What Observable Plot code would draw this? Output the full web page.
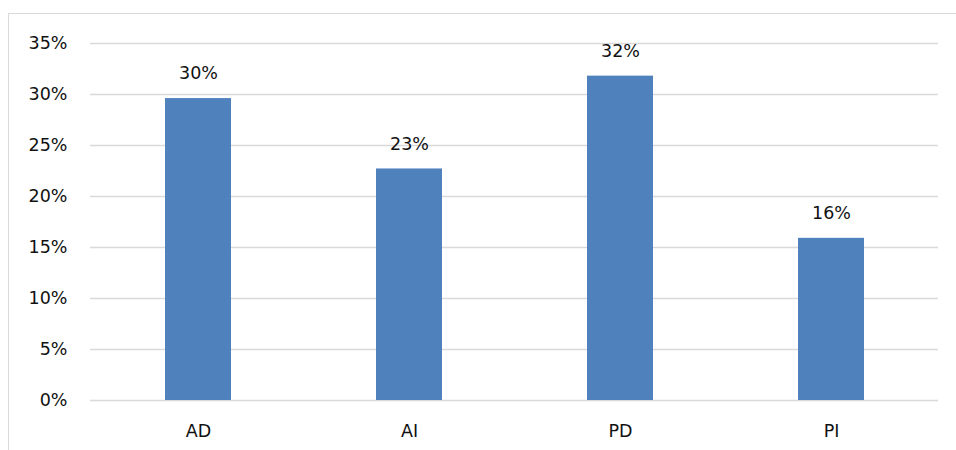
<!DOCTYPE html>
<html>
<head>
<meta charset="utf-8">
<script src="https://cdn.jsdelivr.net/npm/d3@7"></script>
<script src="https://cdn.jsdelivr.net/npm/@observablehq/plot@0.6"></script>
<style>
  html, body { margin: 0; padding: 0; background: #fff; }
  #wrap { position: relative; width: 956px; height: 450px; }
  #border { position: absolute; left: 8px; top: 13px; right: 0; bottom: 0;
            border-left: 1.5px solid #d9d9d9; border-top: 1.5px solid #d9d9d9; }
  #chart { position: absolute; left: 0; top: 0; }
</style>
</head>
<body>
<div id="wrap"><div id="border"></div><div id="chart"></div></div>
<script>
const categories = ["AD", "AI", "PD", "PI"];
const values = [0.296, 0.227, 0.318, 0.159];
const yTicks = [0, 0.05, 0.10, 0.15, 0.20, 0.25, 0.30, 0.35];

const data = categories.map((c, i) => ({category: c, value: values[i]}));
const pct = d3.format(".0%");
const font = "DejaVu Sans, sans-serif";

const chart = Plot.plot({
  width: 956,
  height: 450,
  marginLeft: 90,
  marginRight: 18,
  marginTop: 43,
  marginBottom: 50,
  style: {fontFamily: font, fontSize: "17.5px", color: "#111", background: "transparent"},
  x: {domain: categories, paddingInner: 0.689, paddingOuter: 0.345, label: null, tickSize: 0, tickPadding: 24},
  y: {domain: [0, 0.35], ticks: yTicks, tickFormat: pct, label: null, tickSize: 0, tickPadding: 23},
  marks: [
    Plot.ruleY(yTicks, {stroke: "#d9d9d9", strokeWidth: 1.5, strokeOpacity: 1}),
    Plot.barY(data, {x: "category", y: "value", fill: "#4f81bd"}),
    Plot.text(data, {x: "category", y: "value", text: d => pct(d.value), dy: -25, fill: "#111", fontSize: 17.5, fontFamily: font})
  ]
});
document.getElementById("chart").append(chart);
</script>
</body>
</html>
